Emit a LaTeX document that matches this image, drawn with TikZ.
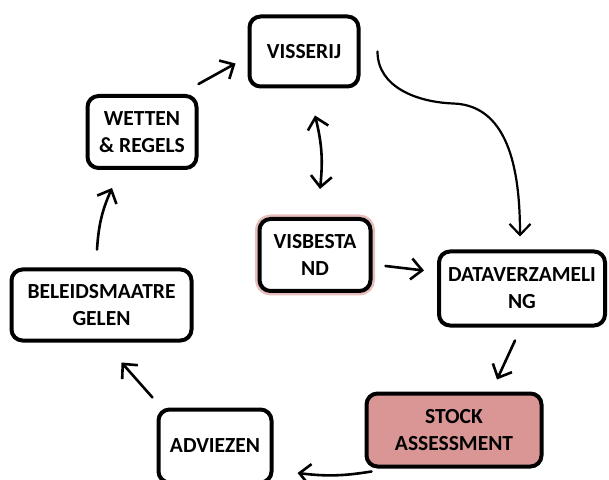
\documentclass[tikz,border=0pt]{standalone}
\usepackage{fontspec}
\setmainfont{Carlito}
\usetikzlibrary{arrows.meta}
\definecolor{ddqqpp}{RGB}{217,150,148}
\definecolor{eebbbb}{RGB}{232,190,189}

\begin{document}
\begin{tikzpicture}[x=1pt,y=1pt,line cap=round,line join=round,>={Straight Barb[length=11pt,width=21pt]},
box/.style={draw=black,line width=4pt,rounded corners=11pt,fill=white,align=center,inner sep=0pt,font=\fontsize{21.5}{27}\selectfont\bfseries},
pijl/.style={->,line width=2.6pt}]
\useasboundingbox (0,0) rectangle (609,479);
% knopen
\node[box,minimum width=109,minimum height=70] (visserij) at (304,427.5) {VISSERIJ};
\node[box,minimum width=109,minimum height=72] (wetten) at (142,347) {WETTEN\\\& REGELS};
\node[box,minimum width=111,minimum height=72,preaction={draw=eebbbb,line width=9pt}] (visbestand) at (315,224) {VISBESTA\\ND};
\node[box,minimum width=166,minimum height=74] (data) at (522,190.5) {DATAVERZAMELI\\NG};
\node[box,minimum width=180,minimum height=71] (beleids) at (101.5,174) {BELEIDSMAATRE\\GELEN};
\node[box,fill=ddqqpp,minimum width=175,minimum height=73] (stock) at (454,49) {STOCK\\ASSESSMENT};
\node[box,minimum width=113,minimum height=73] (advies) at (215,33) {ADVIEZEN};
% pijlen
\draw[pijl] ([shift={(0,10)}]wetten.north east) -- ([shift={(-12,-12)}]visserij.west);
\draw[pijl,<->] ([shift={(11,-27)}]visserij.south) to[bend left=10] ([shift={(5,28)}]visbestand.north);
\draw[pijl,line width=2.2pt] ([xshift=17]visserij.east) to[out=-90,in=178] ++(76,-52) to[out=-2,in=90] ([shift={(-2,13)}]data.north);
\draw[pijl] ([shift={(13,-11)}]visbestand.east) -- ([shift={(-13,18)}]data.west);
\draw[pijl] ([shift={(-7,-13)}]data.south) -- ([shift={(43,12)}]stock.north);
\draw[pijl] ([shift={(7,-3)}]stock.south west) to[bend left=8] ([shift={(24,-27)}]advies.east);
\draw[pijl] ([shift={(-4,10)}]advies.north west) -- ([shift={(20,-20)}]beleids.south);
\draw[pijl] ([shift={(-4.5,18)}]beleids.north) to[bend left=10] ([shift={(-30,-18)}]wetten.south);
\end{tikzpicture}
\end{document}
